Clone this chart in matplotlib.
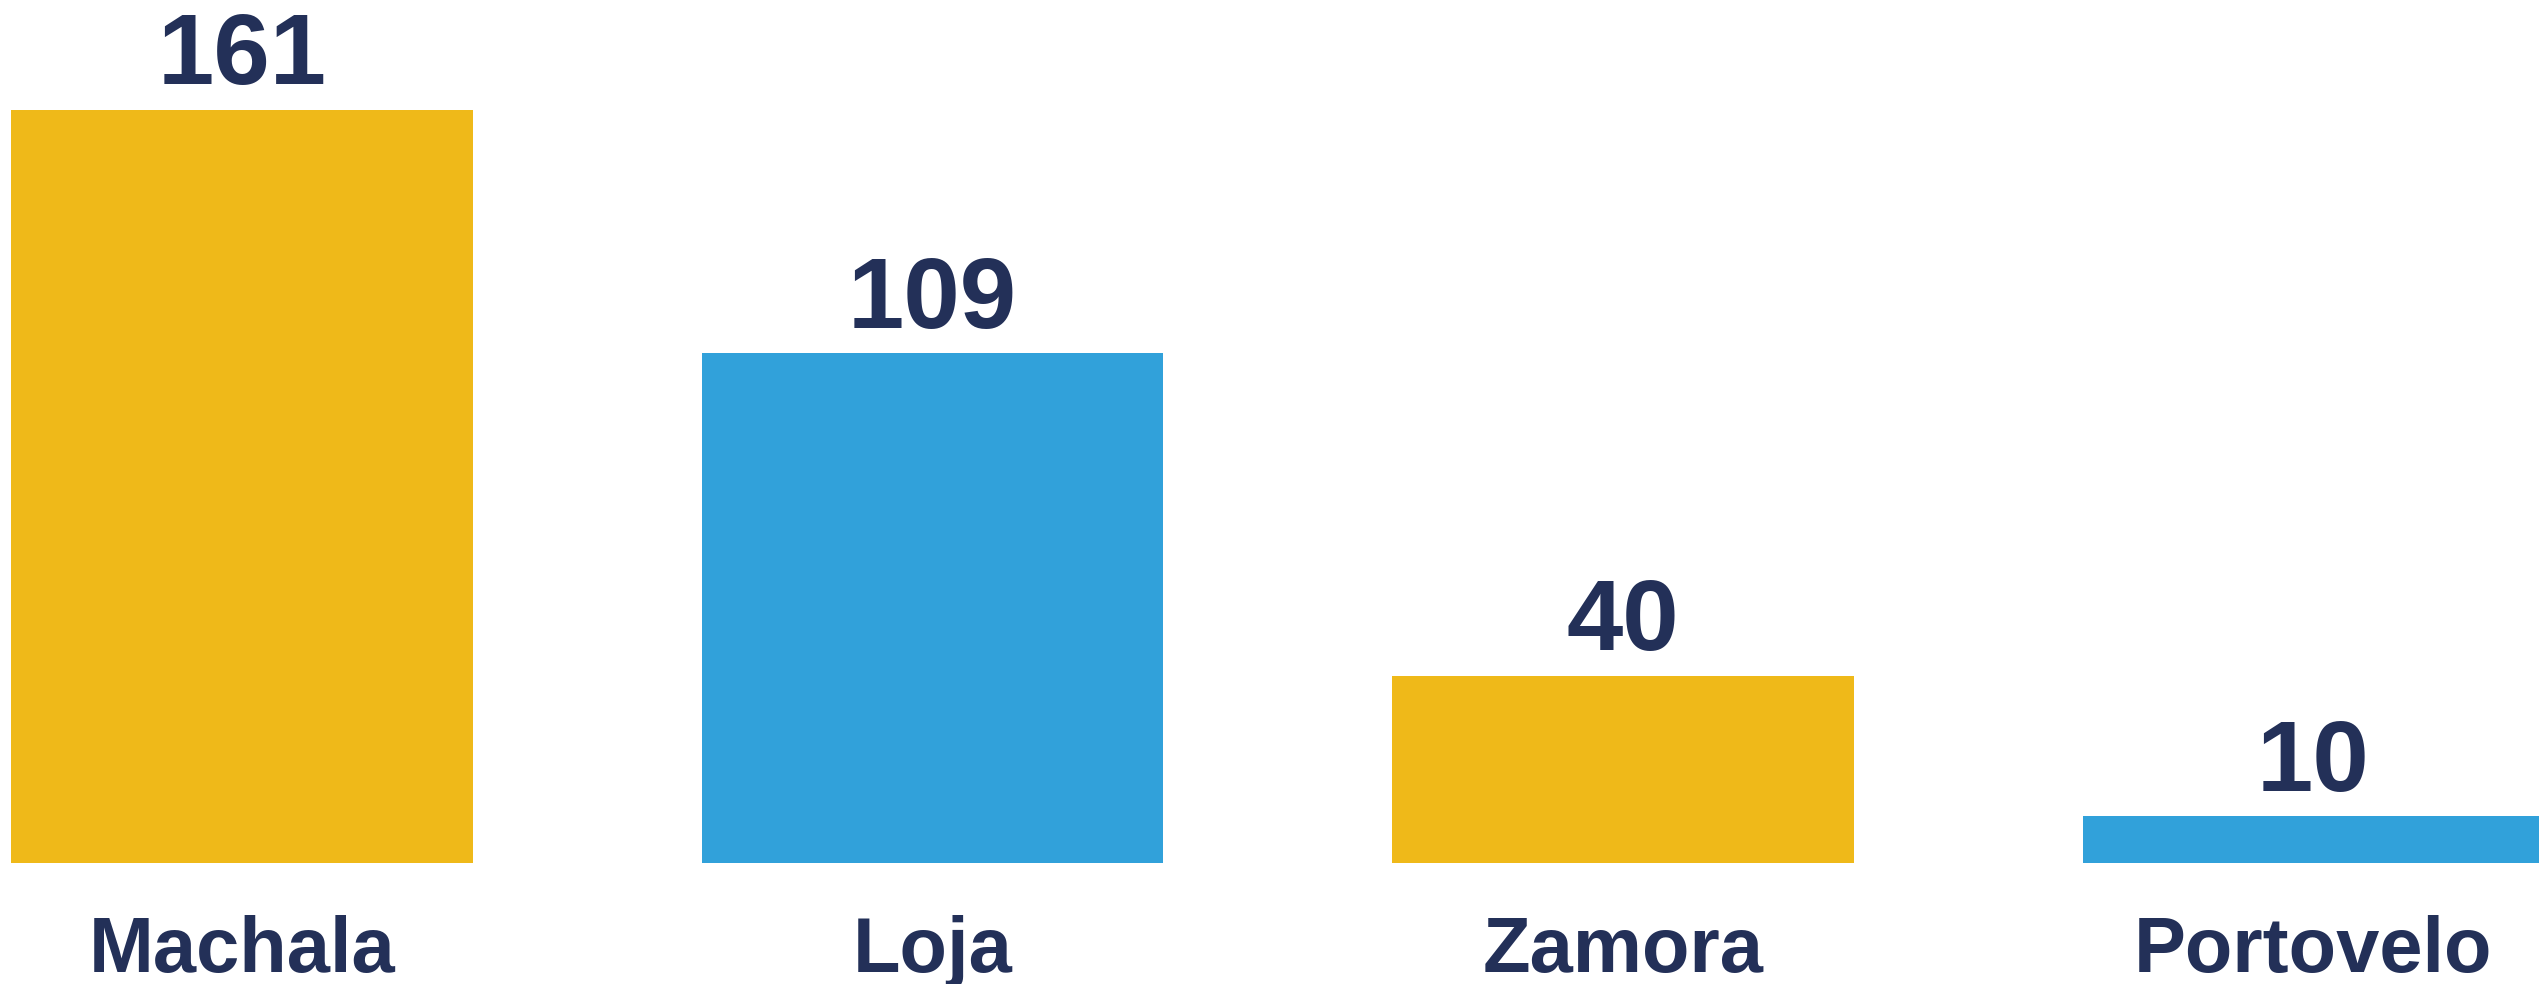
import matplotlib.pyplot as plt

# data
cities = ['Machala', 'Loja', 'Zamora', 'Portovelo']
counts = [161, 109, 40, 10]
bar_colors = ['#EFB919', '#31A1DA', '#EFB919', '#31A1DA']

navy = '#233058'

plt.rcParams['font.family'] = ['Liberation Sans', 'DejaVu Sans']

fig = plt.figure(figsize=(25.39, 9.849), dpi=100)
ax = fig.add_axes([0, 0, 1, 1])

x = list(range(len(cities)))
bars = ax.bar(x, counts, width=0.669, color=bar_colors)

# value labels above the bars
for xi, v in zip(x, counts):
    ax.annotate(str(v), (xi, v), xytext=(0, 19), textcoords='offset points',
                ha='center', va='baseline', fontsize=73, fontweight='bold',
                color=navy)

# category names below
for xi, name in zip(x, cities):
    ax.text(xi, -23.0, name, ha='center', va='baseline', fontsize=56,
            fontweight='bold', color=navy)

ax.set_xlim(-0.3505, 3.3266)
ax.set_ylim(-25.8, 184.6)
ax.axis('off')

fig.savefig('out.png', dpi=100)
plt.close(fig)
